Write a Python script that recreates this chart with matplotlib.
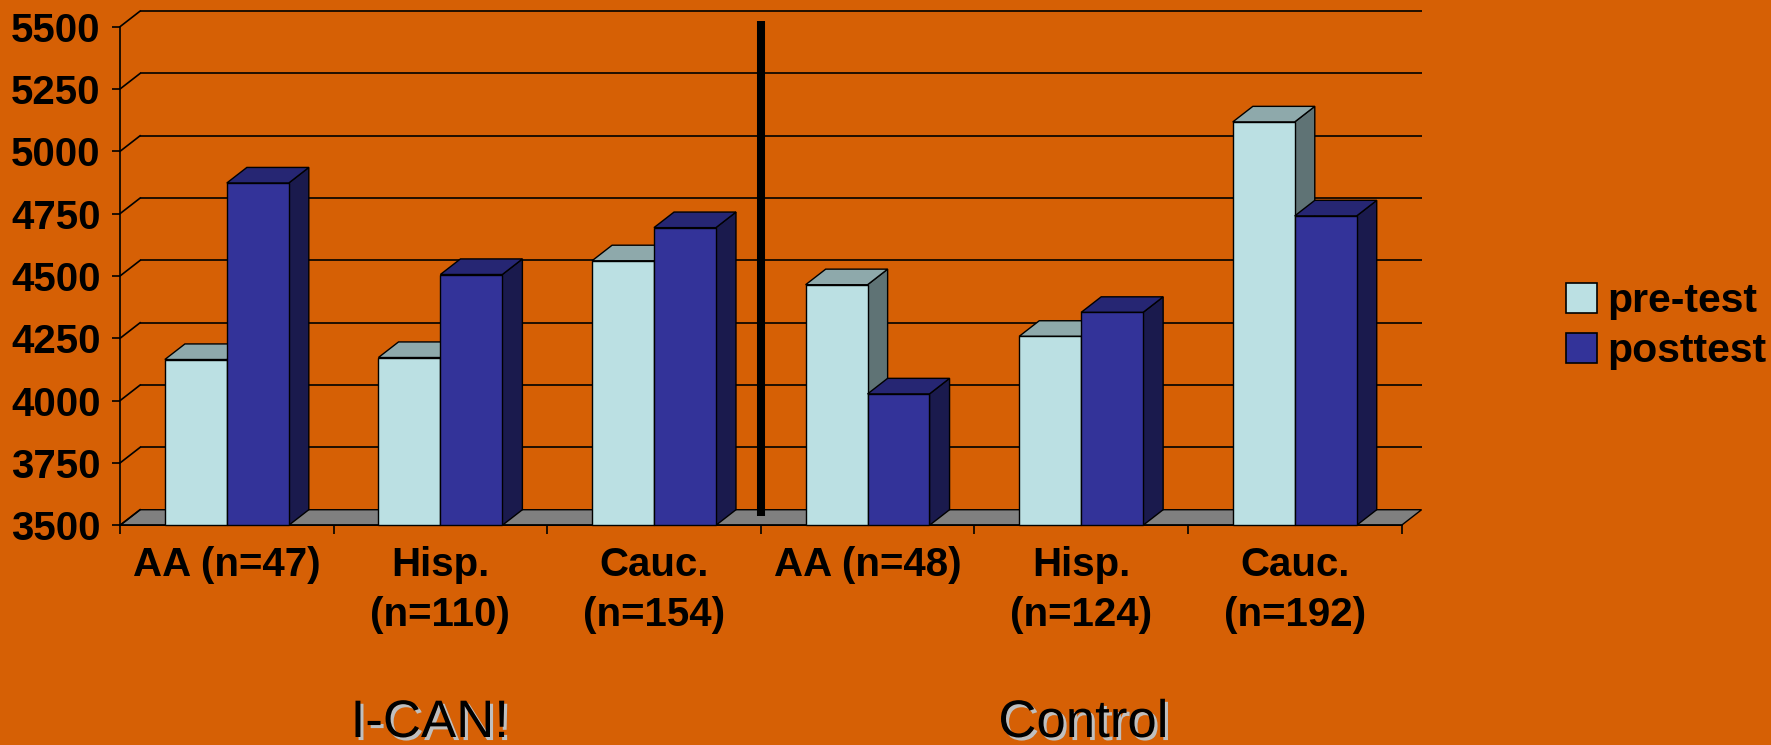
import matplotlib
matplotlib.use("Agg")
import matplotlib.pyplot as plt
from matplotlib.patches import Rectangle, Polygon, Patch
import matplotlib.patheffects as pe

plt.rcParams['font.family'] = ['Liberation Sans', 'DejaVu Sans']

# ---- data -------------------------------------------------------------
categories = ["AA (n=47)", "Hisp.\n(n=110)", "Cauc.\n(n=154)",
              "AA (n=48)", "Hisp.\n(n=124)", "Cauc.\n(n=192)"]
pre_test = [4165, 4173, 4561, 4465, 4258, 5118]
post_test = [4873, 4506, 4694, 4027, 4354, 4741]
series_names = ["pre-test", "posttest"]
group_names = ["I-CAN!", "Control"]
y_ticks = [3500, 3750, 4000, 4250, 4500, 4750, 5000, 5250, 5500]

# ---- style ------------------------------------------------------------
BG = "#D66005"
PRE = ("#BBE0E3", "#8EA9AB", "#5F7375")     # front, top, side
POST = ("#333399", "#262673", "#1A1A4D")
FLOOR = "#808080"
BAR_W = 0.29          # width of one bar, in category units
DX, DY = 0.094, 62.5  # depth of the 3-D projection in data units
EDGE_LW = 1.0
FS = 29

fig = plt.figure(figsize=(17.71, 7.45), dpi=100, facecolor=BG)
ax = fig.add_axes([120 / 1771, 219.7 / 745, 1281.5 / 1771, 498.6 / 745])
ax.set_facecolor("none")
n = len(categories)
ax.set_xlim(0, n)
ax.set_ylim(y_ticks[0], y_ticks[-1])
ymin = y_ticks[0]

# floor
ax.add_patch(Polygon([(0, ymin), (n, ymin), (n + DX, ymin + DY), (DX, ymin + DY)],
                     closed=True, facecolor=FLOOR, edgecolor="black",
                     lw=EDGE_LW, zorder=1, clip_on=False))

# back-wall gridlines and the diagonal connectors on the left wall
for v in y_ticks[1:]:
    ax.plot([DX, n + DX], [v + DY, v + DY], color="black", lw=1.2,
            zorder=1.5, clip_on=False, solid_capstyle="butt")
for v in y_ticks:
    ax.plot([0, DX], [v, v + DY], color="black", lw=1.2,
            zorder=1.5, clip_on=False)


def bar3d(x0, value, colors):
    front, top, side = colors
    x1 = x0 + BAR_W
    ax.add_patch(Polygon([(x1, ymin), (x1 + DX, ymin + DY), (x1 + DX, value + DY), (x1, value)],
                         closed=True, facecolor=side, edgecolor="black",
                         lw=EDGE_LW, zorder=3, clip_on=False, joinstyle="miter"))
    ax.add_patch(Polygon([(x0, value), (x1, value), (x1 + DX, value + DY), (x0 + DX, value + DY)],
                         closed=True, facecolor=top, edgecolor="black",
                         lw=EDGE_LW, zorder=3, clip_on=False, joinstyle="miter"))
    ax.add_patch(Rectangle((x0, ymin), BAR_W, value - ymin, facecolor=front,
                           edgecolor="black", lw=EDGE_LW, zorder=3, clip_on=False))


for i in range(n):
    c = i + 0.5
    bar3d(c - BAR_W, pre_test[i], PRE)
    bar3d(c, post_test[i], POST)

# divider between the two groups
ax.plot([3, 3], [3537, 5523], color="black", lw=5.8, zorder=4,
        clip_on=False, solid_capstyle="butt")

# axes
for s in ("top", "right"):
    ax.spines[s].set_visible(False)
for s in ("left", "bottom"):
    ax.spines[s].set_linewidth(1.2)
    ax.spines[s].set_zorder(2.5)

ax.set_yticks(y_ticks)
ax.set_yticklabels([str(v) for v in y_ticks], fontsize=FS, fontweight="bold")
ax.tick_params(axis="y", length=6, width=1.2, pad=8)

ax.set_xticks(range(n + 1))
ax.set_xticklabels([])
ax.set_xticks([i + 0.5 for i in range(n)], minor=True)
ax.set_xticklabels(categories, minor=True, fontsize=FS, fontweight="bold",
                   linespacing=1.38)
ax.tick_params(axis="x", which="major", length=6.5, width=1.2)
ax.tick_params(axis="x", which="minor", length=0, pad=15)

# legend
handles = [Patch(facecolor=PRE[0], edgecolor="black", lw=1.2),
           Patch(facecolor=POST[0], edgecolor="black", lw=1.2)]
leg = fig.legend(handles, series_names, loc="upper left",
                 bbox_to_anchor=(1566 / 1771, 1 - 282 / 745),
                 frameon=False, borderpad=0, borderaxespad=0,
                 handlelength=0.75, handleheight=0.75, handletextpad=0.25,
                 labelspacing=0.3, prop={"size": 29.5, "weight": "bold"})

# group captions with a soft drop shadow
shadow = [pe.withSimplePatchShadow(offset=(2.2, -2.2), shadow_rgbFace="#BFBFBF", alpha=1.0)]
for gx, name in zip([1.45, 4.51], group_names):
    t = ax.text(gx, -(219.7 - 8) / 498.6, name, transform=ax.get_xaxis_transform(),
                ha="center", va="baseline", fontsize=38)
    t.set_path_effects(shadow)

fig.savefig("out.png", dpi=100, facecolor=BG)
